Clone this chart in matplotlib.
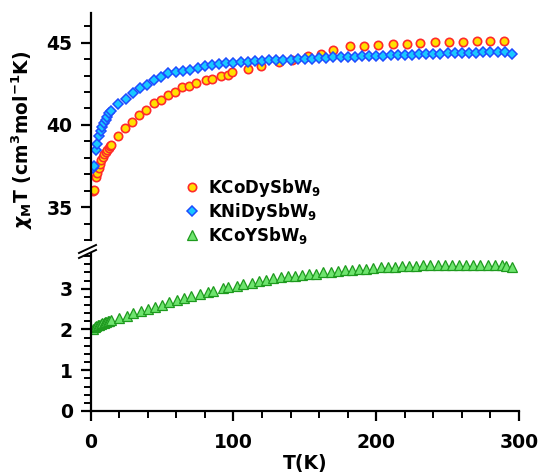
import matplotlib
matplotlib.use("Agg")
import matplotlib.pyplot as plt
from matplotlib.ticker import MultipleLocator
from matplotlib.lines import Line2D

plt.rcParams['font.family'] = ['DejaVu Sans']
plt.rcParams['font.weight'] = 'bold'
plt.rcParams['mathtext.fontset'] = 'custom'
plt.rcParams['mathtext.rm'] = 'DejaVu Sans:bold'
plt.rcParams['mathtext.bf'] = 'DejaVu Sans:bold'
plt.rcParams['mathtext.it'] = 'DejaVu Sans:bold:italic'

# KCoDySbW9
t_co_dy = [1.8, 2.2, 3.5, 4.5, 5.5, 6.5, 7.5, 8.5, 9.5, 10.5, 11.5, 12.5, 13.5, 14.5,
           19, 24, 29, 34, 39, 44, 49, 54, 59, 64, 69, 74, 80.7, 84.7, 91, 96, 99,
           110, 119, 132, 141, 152, 161.5, 169.5, 181.6, 191.6, 201.4, 211.5, 221.3,
           231, 241, 251, 260.5, 270.3, 280, 289.6]
v_co_dy = [36.0, 36.05, 36.8, 37.1, 37.4, 37.65, 37.85, 38.05, 38.2, 38.35, 38.5, 38.6, 38.7, 38.8,
           39.3, 39.8, 40.2, 40.6, 40.9, 41.3, 41.5, 41.8, 42.0, 42.3, 42.38, 42.54, 42.7, 42.8, 42.95, 43.05, 43.2,
           43.4, 43.6, 43.8, 43.96, 44.16, 44.3, 44.57, 44.77, 44.82, 44.88, 44.92, 44.94,
           44.98, 45.02, 45.04, 45.06, 45.1, 45.1, 45.1]

# KNiDySbW9
t_ni_dy = [1.8, 2.3, 3.5, 4.6, 5.8, 7, 8.1, 9.3, 10.5, 11.6, 12.8, 14,
           19.3, 24.5, 29.4, 34.5, 39.2, 44.3, 49.2, 54.3, 59.5, 64.4, 69.5, 74.9,
           80, 85, 90, 95, 100, 105, 110, 115, 120, 125, 130, 135, 140, 145, 150,
           155, 160, 165, 170, 175, 180, 185, 190, 195, 200, 205, 210, 215, 220,
           225, 230, 235, 240, 245, 250, 255, 260, 265, 270, 275, 280, 285, 290, 295]
v_ni_dy = [37.36, 37.5, 38.5, 38.84, 39.3, 39.6, 39.86, 40.1, 40.3, 40.5, 40.7, 40.85,
           41.26, 41.6, 41.93, 42.24, 42.44, 42.7, 42.9, 43.15, 43.22, 43.28, 43.35, 43.45,
           43.55, 43.62, 43.68, 43.74, 43.78, 43.82, 43.85, 43.88, 43.9, 43.92, 43.94, 43.96, 43.97, 43.99, 44.01,
           44.03, 44.05, 44.08, 44.1, 44.12, 44.13, 44.15, 44.17, 44.19, 44.21, 44.21, 44.23, 44.25, 44.27,
           44.27, 44.29, 44.31, 44.31, 44.33, 44.35, 44.36, 44.37, 44.37, 44.39, 44.41, 44.43, 44.43, 44.45, 44.3]

# KCoYSbW9
t_co_y = [1.8, 3, 4, 5, 6, 7, 8, 9, 10, 11, 12, 13, 14,
          20, 25.2, 29.8, 35, 39.9, 45, 50.1, 55, 60.2, 65.3, 70.2, 76.5, 81.9, 85.4,
          92.4, 96.4, 102.2, 106.9, 112.7, 117.9, 122.8, 127.9, 133, 138, 143, 148,
          153, 158, 163, 168, 173, 178, 183, 188, 193, 198, 203, 208, 213, 218, 223,
          228, 233, 238, 243, 248, 253, 258, 263, 268, 273, 278, 283, 288, 291, 295]
v_co_y = [2.0, 2.05, 2.08, 2.1, 2.12, 2.14, 2.16, 2.17, 2.18, 2.19, 2.2, 2.21, 2.22,
          2.28, 2.34, 2.40, 2.45, 2.51, 2.56, 2.61, 2.67, 2.72, 2.77, 2.82, 2.87, 2.93, 2.95,
          3.01, 3.03, 3.07, 3.11, 3.15, 3.2, 3.22, 3.25, 3.28, 3.30, 3.32, 3.33,
          3.36, 3.37, 3.40, 3.41, 3.44, 3.45, 3.46, 3.48, 3.49, 3.51, 3.52, 3.53, 3.54, 3.55, 3.56,
          3.56, 3.57, 3.57, 3.58, 3.58, 3.58, 3.59, 3.59, 3.59, 3.58, 3.58, 3.58, 3.57, 3.56, 3.54]

labels = [r'KCoDySbW$_{\mathbf{9}}$', r'KNiDySbW$_{\mathbf{9}}$', r'KCoYSbW$_{\mathbf{9}}$']

top_yticks = [35, 40, 45]
bot_yticks = [0, 1, 2, 3]
xticks = [0, 100, 200, 300]

W, H = 541, 475
fig = plt.figure(figsize=(W / 100, H / 100), dpi=100)
left = 90.7 / W
width = (519 - 90.7) / W
ax_top = fig.add_axes([left, 1 - 240 / H, width, (240 - 13) / H])
ax_bot = fig.add_axes([left, 1 - 411 / H, width, (411 - 254) / H])

sty_co_dy = dict(marker='o', ms=6, mfc='#FFE000', mec='#FF2A2A', mew=1.2, ls='none')
sty_ni_dy = dict(marker='D', ms=5.4, mfc='#19C8FF', mec='#1E4BFF', mew=1.1, ls='none')
sty_co_y = dict(marker='^', ms=6.5, mfc='#6EE46E', mec='#1E9A1E', mew=0.9, ls='none')

ax_top.plot(t_co_dy, v_co_dy, **sty_co_dy)
ax_top.plot(t_ni_dy, v_ni_dy, **sty_ni_dy)
ax_bot.plot(t_co_y, v_co_y, **sty_co_y)

tick_font = dict(fontsize=13.5, fontweight='bold', family='DejaVu Sans')

for ax in (ax_top, ax_bot):
    ax.set_xlim(0, 300)
    for s in ('top', 'right'):
        ax.spines[s].set_visible(False)
    ax.spines['left'].set_linewidth(1.6)
    ax.spines['bottom'].set_linewidth(1.6)
    ax.tick_params(axis='both', which='major', direction='out', length=7, width=1.6)
    ax.tick_params(axis='both', which='minor', direction='out', length=5, width=1.4)

ax_top.set_ylim(33, 46.8)
ax_top.spines['bottom'].set_visible(False)
ax_top.tick_params(axis='x', which='both', bottom=False, labelbottom=False)
ax_top.set_yticks(top_yticks, labels=[str(v) for v in top_yticks], **tick_font)
ax_top.yaxis.set_minor_locator(MultipleLocator(1))

ax_bot.set_ylim(0, 3.85)
ax_bot.set_yticks(bot_yticks, labels=[str(v) for v in bot_yticks], **tick_font)
ax_bot.yaxis.set_minor_locator(MultipleLocator(0.2))
ax_bot.set_xticks(xticks, labels=[str(v) for v in xticks], **tick_font)
ax_bot.xaxis.set_minor_locator(MultipleLocator(20))
ax_bot.tick_params(axis='x', which='major', pad=9)
ax_bot.tick_params(axis='y', which='major', pad=6)
ax_top.tick_params(axis='y', which='major', pad=6)

# axis break marks
for dy in (0, 5):
    fig.add_artist(Line2D([79 / W, 96 / W], [1 - (258 - dy) / H, 1 - (250 - dy) / H],
                          transform=fig.transFigure, color='black', lw=1.4))

fig.text(305 / W, 1 - 464 / H, 'T(K)', ha='center', va='center', fontsize=13.5, fontweight='bold')
fig.text(22 / W, 1 - 140 / H, r'$\chi_{\mathbf{M}}$T (cm$^{\mathbf{3}}$mol$^{\mathbf{-1}}$K)',
         ha='center', va='center', rotation=90, fontsize=13.5, fontweight='bold')

handles = [Line2D([], [], **sty_co_dy), Line2D([], [], **sty_ni_dy), Line2D([], [], **sty_co_y)]
fig.legend(handles, labels, loc='upper left', bbox_to_anchor=(185 / W, 1 - 177 / H),
           frameon=False, handlelength=0.8, handletextpad=0.55, labelspacing=0.12,
           prop={'weight': 'bold', 'size': 12, 'family': 'DejaVu Sans'}, borderaxespad=0, borderpad=0)

fig.savefig('out.png', dpi=100)
